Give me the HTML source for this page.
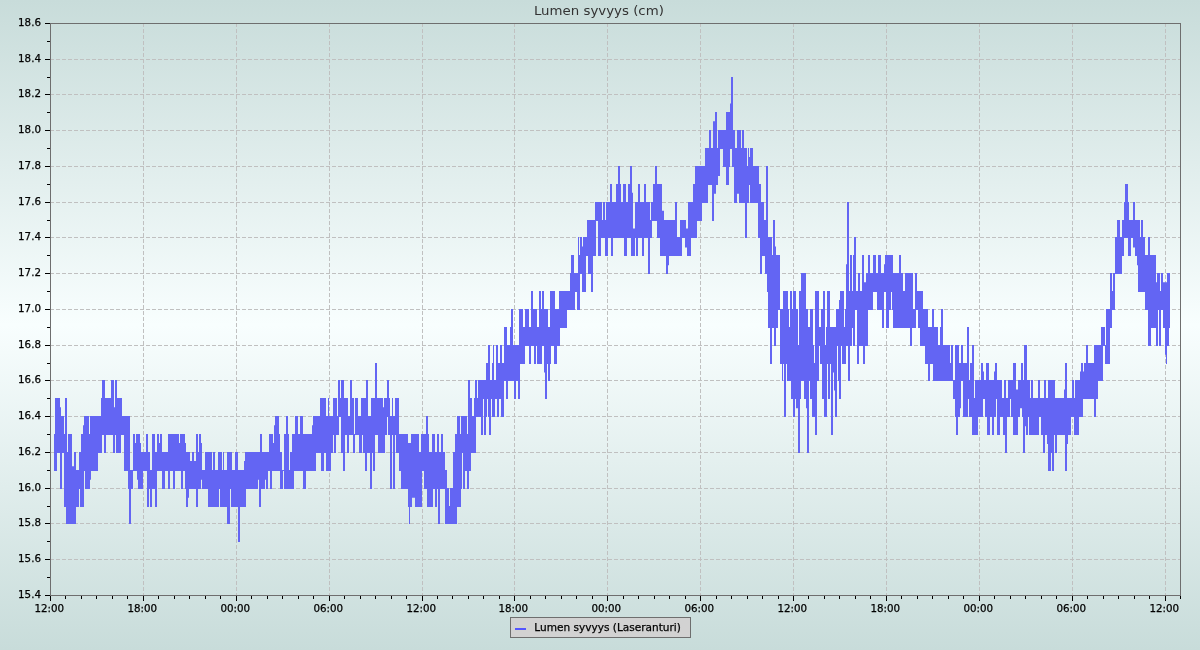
<!DOCTYPE html>
<html><head><meta charset="utf-8"><title>Lumen syvyys (cm)</title>
<style>
html,body{margin:0;padding:0;width:1200px;height:650px;overflow:hidden}
body{background:linear-gradient(to bottom,#c8dcda 0,#f8fefe 50%,#c8dcda 100%)}
svg{display:block;position:absolute;left:0;top:0;will-change:transform}
</style></head><body>
<svg width="1200" height="650" viewBox="0 0 1200 650">
<g stroke="#c0c0c0" stroke-width="1" stroke-dasharray="4 2" shape-rendering="crispEdges" fill="none"><line x1="50" y1="559.5" x2="1180" y2="559.5"/><line x1="50" y1="523.5" x2="1180" y2="523.5"/><line x1="50" y1="488.5" x2="1180" y2="488.5"/><line x1="50" y1="452.5" x2="1180" y2="452.5"/><line x1="50" y1="416.5" x2="1180" y2="416.5"/><line x1="50" y1="380.5" x2="1180" y2="380.5"/><line x1="50" y1="345.5" x2="1180" y2="345.5"/><line x1="50" y1="309.5" x2="1180" y2="309.5"/><line x1="50" y1="273.5" x2="1180" y2="273.5"/><line x1="50" y1="237.5" x2="1180" y2="237.5"/><line x1="50" y1="202.5" x2="1180" y2="202.5"/><line x1="50" y1="166.5" x2="1180" y2="166.5"/><line x1="50" y1="130.5" x2="1180" y2="130.5"/><line x1="50" y1="94.5" x2="1180" y2="94.5"/><line x1="50" y1="59.5" x2="1180" y2="59.5"/><line x1="143.5" y1="23" x2="143.5" y2="595"/><line x1="236.5" y1="23" x2="236.5" y2="595"/><line x1="329.5" y1="23" x2="329.5" y2="595"/><line x1="422.5" y1="23" x2="422.5" y2="595"/><line x1="514.5" y1="23" x2="514.5" y2="595"/><line x1="607.5" y1="23" x2="607.5" y2="595"/><line x1="700.5" y1="23" x2="700.5" y2="595"/><line x1="793.5" y1="23" x2="793.5" y2="595"/><line x1="886.5" y1="23" x2="886.5" y2="595"/><line x1="979.5" y1="23" x2="979.5" y2="595"/><line x1="1072.5" y1="23" x2="1072.5" y2="595"/><line x1="1165.5" y1="23" x2="1165.5" y2="595"/></g>
<path d="M54.00 434.00 L55.00 434.00 L55.00 398.00 L57.00 398.00 L57.00 398.00 L60.00 398.00 L60.00 407.31 L61.00 407.31 L61.00 416.00 L62.00 416.00 L62.00 416.00 L64.00 416.00 L64.00 434.00 L65.00 434.00 L65.00 398.00 L66.00 398.00 L66.00 398.00 L67.00 398.00 L67.00 452.00 L68.00 452.00 L68.00 434.00 L72.00 434.00 L72.00 466.30 L74.00 466.30 L74.00 452.00 L76.00 452.00 L76.00 470.00 L79.00 470.00 L79.00 452.00 L80.00 452.00 L80.00 452.00 L81.00 452.00 L81.00 434.00 L83.00 434.00 L83.00 425.19 L84.00 425.19 L84.00 416.00 L85.00 416.00 L85.00 416.00 L89.00 416.00 L89.00 434.00 L90.00 434.00 L90.00 416.00 L91.00 416.00 L91.00 416.00 L98.00 416.00 L98.00 416.00 L100.00 416.00 L100.00 416.00 L101.00 416.00 L101.00 398.00 L102.00 398.00 L102.00 380.00 L104.00 380.00 L104.00 380.00 L105.00 380.00 L105.00 398.00 L106.00 398.00 L106.00 398.00 L111.00 398.00 L111.00 380.00 L113.00 380.00 L113.00 380.00 L114.00 380.00 L114.00 407.31 L115.00 407.31 L115.00 380.00 L116.00 380.00 L116.00 380.00 L117.00 380.00 L117.00 398.00 L121.00 398.00 L121.00 398.00 L122.00 398.00 L122.00 416.00 L124.00 416.00 L124.00 416.00 L128.00 416.00 L128.00 416.00 L129.00 416.00 L129.00 416.00 L130.00 416.00 L130.00 470.00 L131.00 470.00 L131.00 470.00 L133.00 470.00 L133.00 434.00 L135.00 434.00 L135.00 443.06 L136.00 443.06 L136.00 434.00 L137.00 434.00 L137.00 434.00 L138.00 434.00 L138.00 434.00 L140.00 434.00 L140.00 443.06 L141.00 443.06 L141.00 452.00 L143.00 452.00 L143.00 452.00 L146.00 452.00 L146.00 434.00 L147.00 434.00 L147.00 434.00 L148.00 434.00 L148.00 452.00 L149.00 452.00 L149.00 452.00 L150.00 452.00 L150.00 470.00 L152.00 470.00 L152.00 434.00 L155.00 434.00 L155.00 452.00 L157.00 452.00 L157.00 434.00 L159.00 434.00 L159.00 443.06 L160.00 443.06 L160.00 434.00 L162.00 434.00 L162.00 452.00 L165.00 452.00 L165.00 452.00 L168.00 452.00 L168.00 434.00 L170.00 434.00 L170.00 434.00 L173.00 434.00 L173.00 434.00 L175.00 434.00 L175.00 434.00 L179.00 434.00 L179.00 443.06 L180.00 443.06 L180.00 434.00 L181.00 434.00 L181.00 434.00 L183.00 434.00 L183.00 434.00 L185.00 434.00 L185.00 443.06 L186.00 443.06 L186.00 452.00 L188.00 452.00 L188.00 452.00 L189.00 452.00 L189.00 452.00 L190.00 452.00 L190.00 460.94 L192.00 460.94 L192.00 452.00 L194.00 452.00 L194.00 460.94 L196.00 460.94 L196.00 434.00 L198.00 434.00 L198.00 452.00 L199.00 452.00 L199.00 434.00 L201.00 434.00 L201.00 443.06 L202.00 443.06 L202.00 470.00 L205.00 470.00 L205.00 452.00 L208.00 452.00 L208.00 452.00 L212.00 452.00 L212.00 470.00 L213.00 470.00 L213.00 452.00 L215.00 452.00 L215.00 470.00 L218.00 470.00 L218.00 452.00 L219.00 452.00 L219.00 452.00 L220.00 452.00 L220.00 452.00 L222.00 452.00 L222.00 470.00 L223.00 470.00 L223.00 452.00 L224.00 452.00 L224.00 470.00 L227.00 470.00 L227.00 452.00 L230.00 452.00 L230.00 452.00 L231.00 452.00 L231.00 452.00 L232.00 452.00 L232.00 470.00 L235.00 470.00 L235.00 452.00 L238.00 452.00 L238.00 470.00 L240.00 470.00 L240.00 470.00 L244.00 470.00 L244.00 460.94 L245.00 460.94 L245.00 452.00 L246.00 452.00 L246.00 452.00 L250.00 452.00 L250.00 452.00 L258.00 452.00 L258.00 452.00 L259.00 452.00 L259.00 452.00 L260.00 452.00 L260.00 434.00 L261.00 434.00 L261.00 434.00 L262.00 434.00 L262.00 452.00 L265.00 452.00 L265.00 452.00 L266.00 452.00 L266.00 452.00 L268.00 452.00 L268.00 452.00 L269.00 452.00 L269.00 434.00 L270.00 434.00 L270.00 434.00 L272.00 434.00 L272.00 434.00 L273.00 434.00 L273.00 443.06 L274.00 443.06 L274.00 425.19 L275.00 425.19 L275.00 416.00 L279.00 416.00 L279.00 434.00 L280.00 434.00 L280.00 452.00 L282.00 452.00 L282.00 470.00 L283.00 470.00 L283.00 470.00 L284.00 470.00 L284.00 434.00 L286.00 434.00 L286.00 416.00 L288.00 416.00 L288.00 434.00 L289.00 434.00 L289.00 470.00 L290.00 470.00 L290.00 452.00 L292.00 452.00 L292.00 434.00 L294.00 434.00 L294.00 434.00 L295.00 434.00 L295.00 416.00 L298.00 416.00 L298.00 434.00 L300.00 434.00 L300.00 416.00 L303.00 416.00 L303.00 434.00 L306.00 434.00 L306.00 434.00 L312.00 434.00 L312.00 425.19 L313.00 425.19 L313.00 416.00 L316.00 416.00 L316.00 416.00 L320.00 416.00 L320.00 398.00 L321.00 398.00 L321.00 398.00 L324.00 398.00 L324.00 398.00 L326.00 398.00 L326.00 416.00 L328.00 416.00 L328.00 398.00 L329.00 398.00 L329.00 416.00 L331.00 416.00 L331.00 416.00 L333.00 416.00 L333.00 398.00 L334.00 398.00 L334.00 398.00 L336.00 398.00 L336.00 398.00 L337.00 398.00 L337.00 416.00 L338.00 416.00 L338.00 380.00 L339.00 380.00 L339.00 380.00 L340.00 380.00 L340.00 398.00 L341.00 398.00 L341.00 380.00 L343.00 380.00 L343.00 380.00 L344.00 380.00 L344.00 398.00 L345.00 398.00 L345.00 398.00 L347.00 398.00 L347.00 398.00 L348.00 398.00 L348.00 416.00 L349.00 416.00 L349.00 416.00 L350.00 416.00 L350.00 380.00 L352.00 380.00 L352.00 398.00 L353.00 398.00 L353.00 398.00 L354.00 398.00 L354.00 434.00 L355.00 434.00 L355.00 398.00 L358.00 398.00 L358.00 416.00 L359.00 416.00 L359.00 416.00 L361.00 416.00 L361.00 398.00 L362.00 398.00 L362.00 398.00 L363.00 398.00 L363.00 398.00 L365.00 398.00 L365.00 398.00 L366.00 398.00 L366.00 380.00 L367.00 380.00 L367.00 380.00 L368.00 380.00 L368.00 416.00 L370.00 416.00 L370.00 416.00 L371.00 416.00 L371.00 398.00 L372.00 398.00 L372.00 398.00 L373.00 398.00 L373.00 398.00 L375.00 398.00 L375.00 363.00 L377.00 363.00 L377.00 398.00 L378.00 398.00 L378.00 398.00 L383.00 398.00 L383.00 407.31 L384.00 407.31 L384.00 398.00 L385.00 398.00 L385.00 398.00 L387.00 398.00 L387.00 380.00 L388.00 380.00 L388.00 380.00 L389.00 380.00 L389.00 398.00 L390.00 398.00 L390.00 416.00 L392.00 416.00 L392.00 398.00 L393.00 398.00 L393.00 416.00 L395.00 416.00 L395.00 398.00 L396.00 398.00 L396.00 398.00 L399.00 398.00 L399.00 434.00 L401.00 434.00 L401.00 434.00 L408.00 434.00 L408.00 443.06 L409.00 443.06 L409.00 443.06 L410.00 443.06 L410.00 443.06 L411.00 443.06 L411.00 434.00 L412.00 434.00 L412.00 434.00 L415.00 434.00 L415.00 434.00 L419.00 434.00 L419.00 452.00 L421.00 452.00 L421.00 434.00 L422.00 434.00 L422.00 434.00 L424.00 434.00 L424.00 434.00 L426.00 434.00 L426.00 416.00 L427.00 416.00 L427.00 416.00 L428.00 416.00 L428.00 434.00 L429.00 434.00 L429.00 452.00 L432.00 452.00 L432.00 434.00 L433.00 434.00 L433.00 434.00 L435.00 434.00 L435.00 452.00 L437.00 452.00 L437.00 434.00 L438.00 434.00 L438.00 434.00 L439.00 434.00 L439.00 452.00 L440.00 452.00 L440.00 452.00 L441.00 452.00 L441.00 434.00 L443.00 434.00 L443.00 452.00 L445.00 452.00 L445.00 470.00 L447.00 470.00 L447.00 488.00 L449.00 488.00 L449.00 506.00 L450.00 506.00 L450.00 488.00 L453.00 488.00 L453.00 452.00 L455.00 452.00 L455.00 434.00 L457.00 434.00 L457.00 416.00 L460.00 416.00 L460.00 434.00 L461.00 434.00 L461.00 416.00 L462.00 416.00 L462.00 416.00 L463.00 416.00 L463.00 416.00 L465.00 416.00 L465.00 416.00 L467.00 416.00 L467.00 434.00 L468.00 434.00 L468.00 380.00 L469.00 380.00 L469.00 380.00 L470.00 380.00 L470.00 398.00 L471.00 398.00 L471.00 398.00 L472.00 398.00 L472.00 416.00 L474.00 416.00 L474.00 398.00 L475.00 398.00 L475.00 380.00 L476.00 380.00 L476.00 380.00 L477.00 380.00 L477.00 398.00 L478.00 398.00 L478.00 380.00 L481.00 380.00 L481.00 380.00 L483.00 380.00 L483.00 380.00 L484.00 380.00 L484.00 380.00 L486.00 380.00 L486.00 363.00 L487.00 363.00 L487.00 363.00 L488.00 363.00 L488.00 345.00 L489.00 345.00 L489.00 345.00 L490.00 345.00 L490.00 380.00 L491.00 380.00 L491.00 380.00 L492.00 380.00 L492.00 363.00 L493.00 363.00 L493.00 345.00 L494.00 345.00 L494.00 380.00 L495.00 380.00 L495.00 380.00 L496.00 380.00 L496.00 345.00 L497.00 345.00 L497.00 345.00 L498.00 345.00 L498.00 363.00 L499.00 363.00 L499.00 363.00 L500.00 363.00 L500.00 345.00 L501.00 345.00 L501.00 345.00 L502.00 345.00 L502.00 363.00 L504.00 363.00 L504.00 327.00 L506.00 327.00 L506.00 327.00 L507.00 327.00 L507.00 345.00 L508.00 345.00 L508.00 345.00 L510.00 345.00 L510.00 327.00 L511.00 327.00 L511.00 309.00 L513.00 309.00 L513.00 345.00 L514.00 345.00 L514.00 345.00 L516.00 345.00 L516.00 345.00 L518.00 345.00 L518.00 345.00 L519.00 345.00 L519.00 309.00 L520.00 309.00 L520.00 309.00 L523.00 309.00 L523.00 327.00 L525.00 327.00 L525.00 309.00 L529.00 309.00 L529.00 327.00 L531.00 327.00 L531.00 291.00 L533.00 291.00 L533.00 309.00 L534.00 309.00 L534.00 309.00 L536.00 309.00 L536.00 309.00 L537.00 309.00 L537.00 327.00 L539.00 327.00 L539.00 291.00 L541.00 291.00 L541.00 309.00 L542.00 309.00 L542.00 291.00 L544.00 291.00 L544.00 309.00 L545.00 309.00 L545.00 309.00 L547.00 309.00 L547.00 309.00 L548.00 309.00 L548.00 327.00 L550.00 327.00 L550.00 291.00 L551.00 291.00 L551.00 291.00 L554.00 291.00 L554.00 291.00 L555.00 291.00 L555.00 309.00 L557.00 309.00 L557.00 309.00 L559.00 309.00 L559.00 291.00 L560.00 291.00 L560.00 291.00 L567.00 291.00 L567.00 291.00 L570.00 291.00 L570.00 273.00 L571.00 273.00 L571.00 255.00 L574.00 255.00 L574.00 273.00 L575.00 273.00 L575.00 273.00 L577.00 273.00 L577.00 273.00 L578.00 273.00 L578.00 237.00 L579.00 237.00 L579.00 255.00 L580.00 255.00 L580.00 237.00 L582.00 237.00 L582.00 246.44 L583.00 246.44 L583.00 237.00 L586.00 237.00 L586.00 237.00 L587.00 237.00 L587.00 220.00 L588.00 220.00 L588.00 220.00 L591.00 220.00 L591.00 220.00 L593.00 220.00 L593.00 220.00 L595.00 220.00 L595.00 202.00 L596.00 202.00 L596.00 202.00 L598.00 202.00 L598.00 202.00 L601.00 202.00 L601.00 202.00 L602.00 202.00 L602.00 220.00 L603.00 220.00 L603.00 202.00 L605.00 202.00 L605.00 220.00 L606.00 220.00 L606.00 202.00 L608.00 202.00 L608.00 202.00 L610.00 202.00 L610.00 184.00 L611.00 184.00 L611.00 184.00 L612.00 184.00 L612.00 202.00 L613.00 202.00 L613.00 202.00 L616.00 202.00 L616.00 184.00 L618.00 184.00 L618.00 166.00 L620.00 166.00 L620.00 184.00 L621.00 184.00 L621.00 202.00 L623.00 202.00 L623.00 184.00 L624.00 184.00 L624.00 184.00 L626.00 184.00 L626.00 202.00 L627.00 202.00 L627.00 202.00 L628.00 202.00 L628.00 184.00 L630.00 184.00 L630.00 166.00 L631.00 166.00 L631.00 166.00 L632.00 166.00 L632.00 192.81 L633.00 192.81 L633.00 228.56 L635.00 228.56 L635.00 202.00 L636.00 202.00 L636.00 202.00 L638.00 202.00 L638.00 184.00 L640.00 184.00 L640.00 202.00 L642.00 202.00 L642.00 202.00 L644.00 202.00 L644.00 184.00 L646.00 184.00 L646.00 202.00 L648.00 202.00 L648.00 202.00 L650.00 202.00 L650.00 220.00 L651.00 220.00 L651.00 202.00 L652.00 202.00 L652.00 202.00 L653.00 202.00 L653.00 184.00 L655.00 184.00 L655.00 166.00 L657.00 166.00 L657.00 184.00 L660.00 184.00 L660.00 184.00 L662.00 184.00 L662.00 210.69 L664.00 210.69 L664.00 220.00 L666.00 220.00 L666.00 220.00 L668.00 220.00 L668.00 220.00 L669.00 220.00 L669.00 220.00 L675.00 220.00 L675.00 202.00 L677.00 202.00 L677.00 237.00 L680.00 237.00 L680.00 220.00 L682.00 220.00 L682.00 220.00 L685.00 220.00 L685.00 220.00 L686.00 220.00 L686.00 228.56 L687.00 228.56 L687.00 228.56 L688.00 228.56 L688.00 202.00 L691.00 202.00 L691.00 202.00 L693.00 202.00 L693.00 184.00 L695.00 184.00 L695.00 166.00 L697.00 166.00 L697.00 166.00 L702.00 166.00 L702.00 166.00 L705.00 166.00 L705.00 148.00 L708.00 148.00 L708.00 148.00 L709.00 148.00 L709.00 130.00 L711.00 130.00 L711.00 148.00 L712.00 148.00 L712.00 148.00 L713.00 148.00 L713.00 121.31 L714.00 121.31 L714.00 121.31 L715.00 121.31 L715.00 112.00 L716.00 112.00 L716.00 112.00 L717.00 112.00 L717.00 148.00 L718.00 148.00 L718.00 130.00 L720.00 130.00 L720.00 130.00 L723.00 130.00 L723.00 130.00 L726.00 130.00 L726.00 112.00 L729.00 112.00 L729.00 112.00 L730.00 112.00 L730.00 103.44 L731.00 103.44 L731.00 77.00 L732.00 77.00 L732.00 77.00 L733.00 77.00 L733.00 130.00 L734.00 130.00 L734.00 130.00 L735.00 130.00 L735.00 148.00 L737.00 148.00 L737.00 130.00 L739.00 130.00 L739.00 130.00 L741.00 130.00 L741.00 148.00 L742.00 148.00 L742.00 130.00 L744.00 130.00 L744.00 148.00 L745.00 148.00 L745.00 148.00 L747.00 148.00 L747.00 166.00 L748.00 166.00 L748.00 148.00 L749.00 148.00 L749.00 157.06 L750.00 157.06 L750.00 148.00 L753.00 148.00 L753.00 166.00 L758.00 166.00 L758.00 166.00 L759.00 166.00 L759.00 184.00 L760.00 184.00 L760.00 184.00 L761.00 184.00 L761.00 202.00 L762.00 202.00 L762.00 202.00 L764.00 202.00 L764.00 220.00 L765.00 220.00 L765.00 220.00 L766.00 220.00 L766.00 166.00 L767.00 166.00 L767.00 166.00 L768.00 166.00 L768.00 237.00 L769.00 237.00 L769.00 237.00 L770.00 237.00 L770.00 237.00 L772.00 237.00 L772.00 255.00 L773.00 255.00 L773.00 220.00 L774.00 220.00 L774.00 220.00 L775.00 220.00 L775.00 246.44 L776.00 246.44 L776.00 255.00 L778.00 255.00 L778.00 255.00 L780.00 255.00 L780.00 309.00 L782.00 309.00 L782.00 309.00 L783.00 309.00 L783.00 291.00 L784.00 291.00 L784.00 291.00 L786.00 291.00 L786.00 291.00 L787.00 291.00 L787.00 291.00 L788.00 291.00 L788.00 309.00 L789.00 309.00 L789.00 327.00 L790.00 327.00 L790.00 291.00 L791.00 291.00 L791.00 291.00 L792.00 291.00 L792.00 309.00 L793.00 309.00 L793.00 291.00 L795.00 291.00 L795.00 291.00 L796.00 291.00 L796.00 309.00 L798.00 309.00 L798.00 345.00 L799.00 345.00 L799.00 291.00 L800.00 291.00 L800.00 291.00 L801.00 291.00 L801.00 273.00 L804.00 273.00 L804.00 273.00 L806.00 273.00 L806.00 309.00 L807.00 309.00 L807.00 309.00 L808.00 309.00 L808.00 327.00 L809.00 327.00 L809.00 327.00 L810.00 327.00 L810.00 309.00 L812.00 309.00 L812.00 309.00 L813.00 309.00 L813.00 345.00 L814.00 345.00 L814.00 363.00 L815.00 363.00 L815.00 291.00 L817.00 291.00 L817.00 291.00 L819.00 291.00 L819.00 327.00 L820.00 327.00 L820.00 327.00 L821.00 327.00 L821.00 309.00 L822.00 309.00 L822.00 309.00 L823.00 309.00 L823.00 291.00 L824.00 291.00 L824.00 291.00 L825.00 291.00 L825.00 345.00 L826.00 345.00 L826.00 327.00 L827.00 327.00 L827.00 291.00 L828.00 291.00 L828.00 291.00 L830.00 291.00 L830.00 327.00 L831.00 327.00 L831.00 327.00 L833.00 327.00 L833.00 327.00 L834.00 327.00 L834.00 327.00 L835.00 327.00 L835.00 327.00 L836.00 327.00 L836.00 309.00 L837.00 309.00 L837.00 309.00 L838.00 309.00 L838.00 309.00 L839.00 309.00 L839.00 300.06 L840.00 300.06 L840.00 291.00 L841.00 291.00 L841.00 291.00 L842.00 291.00 L842.00 291.00 L844.00 291.00 L844.00 327.00 L845.00 327.00 L845.00 309.00 L846.00 309.00 L846.00 264.31 L847.00 264.31 L847.00 202.00 L848.00 202.00 L848.00 202.00 L849.00 202.00 L849.00 291.00 L850.00 291.00 L850.00 255.00 L852.00 255.00 L852.00 291.00 L853.00 291.00 L853.00 255.00 L854.00 255.00 L854.00 237.00 L855.00 237.00 L855.00 237.00 L856.00 237.00 L856.00 291.00 L857.00 291.00 L857.00 291.00 L858.00 291.00 L858.00 273.00 L859.00 273.00 L859.00 273.00 L860.00 273.00 L860.00 291.00 L862.00 291.00 L862.00 255.00 L863.00 255.00 L863.00 255.00 L864.00 255.00 L864.00 282.19 L865.00 282.19 L865.00 282.19 L866.00 282.19 L866.00 273.00 L868.00 273.00 L868.00 255.00 L870.00 255.00 L870.00 273.00 L873.00 273.00 L873.00 255.00 L876.00 255.00 L876.00 273.00 L877.00 273.00 L877.00 273.00 L878.00 273.00 L878.00 255.00 L881.00 255.00 L881.00 273.00 L882.00 273.00 L882.00 273.00 L884.00 273.00 L884.00 264.31 L885.00 264.31 L885.00 255.00 L886.00 255.00 L886.00 255.00 L889.00 255.00 L889.00 255.00 L891.00 255.00 L891.00 255.00 L892.00 255.00 L892.00 255.00 L893.00 255.00 L893.00 273.00 L895.00 273.00 L895.00 273.00 L899.00 273.00 L899.00 255.00 L901.00 255.00 L901.00 273.00 L903.00 273.00 L903.00 291.00 L905.00 291.00 L905.00 273.00 L910.00 273.00 L910.00 273.00 L912.00 273.00 L912.00 273.00 L913.00 273.00 L913.00 309.00 L915.00 309.00 L915.00 273.00 L916.00 273.00 L916.00 273.00 L917.00 273.00 L917.00 291.00 L918.00 291.00 L918.00 291.00 L920.00 291.00 L920.00 291.00 L923.00 291.00 L923.00 309.00 L925.00 309.00 L925.00 309.00 L928.00 309.00 L928.00 327.00 L930.00 327.00 L930.00 327.00 L932.00 327.00 L932.00 309.00 L933.00 309.00 L933.00 309.00 L934.00 309.00 L934.00 327.00 L938.00 327.00 L938.00 345.00 L940.00 345.00 L940.00 327.00 L941.00 327.00 L941.00 309.00 L943.00 309.00 L943.00 345.00 L950.00 345.00 L950.00 363.00 L951.00 363.00 L951.00 345.00 L953.00 345.00 L953.00 380.00 L955.00 380.00 L955.00 345.00 L956.00 345.00 L956.00 345.00 L958.00 345.00 L958.00 345.00 L959.00 345.00 L959.00 363.00 L960.00 363.00 L960.00 363.00 L961.00 363.00 L961.00 345.00 L963.00 345.00 L963.00 363.00 L967.00 363.00 L967.00 327.00 L968.00 327.00 L968.00 327.00 L969.00 327.00 L969.00 380.00 L970.00 380.00 L970.00 363.00 L972.00 363.00 L972.00 345.00 L974.00 345.00 L974.00 398.00 L975.00 398.00 L975.00 380.00 L978.00 380.00 L978.00 380.00 L981.00 380.00 L981.00 363.00 L983.00 363.00 L983.00 371.56 L984.00 371.56 L984.00 380.00 L985.00 380.00 L985.00 380.00 L986.00 380.00 L986.00 363.00 L987.00 363.00 L987.00 363.00 L989.00 363.00 L989.00 380.00 L990.00 380.00 L990.00 380.00 L992.00 380.00 L992.00 380.00 L994.00 380.00 L994.00 371.56 L995.00 371.56 L995.00 363.00 L996.00 363.00 L996.00 363.00 L997.00 363.00 L997.00 380.00 L1000.00 380.00 L1000.00 380.00 L1002.00 380.00 L1002.00 398.00 L1003.00 398.00 L1003.00 398.00 L1004.00 398.00 L1004.00 380.00 L1005.00 380.00 L1005.00 380.00 L1006.00 380.00 L1006.00 398.00 L1007.00 398.00 L1007.00 398.00 L1008.00 398.00 L1008.00 380.00 L1010.00 380.00 L1010.00 380.00 L1011.00 380.00 L1011.00 380.00 L1013.00 380.00 L1013.00 363.00 L1016.00 363.00 L1016.00 389.44 L1018.00 389.44 L1018.00 380.00 L1020.00 380.00 L1020.00 380.00 L1021.00 380.00 L1021.00 363.00 L1022.00 363.00 L1022.00 363.00 L1023.00 363.00 L1023.00 380.00 L1024.00 380.00 L1024.00 345.00 L1025.00 345.00 L1025.00 345.00 L1026.00 345.00 L1026.00 345.00 L1027.00 345.00 L1027.00 380.00 L1028.00 380.00 L1028.00 380.00 L1029.00 380.00 L1029.00 380.00 L1030.00 380.00 L1030.00 398.00 L1031.00 398.00 L1031.00 380.00 L1033.00 380.00 L1033.00 398.00 L1038.00 398.00 L1038.00 380.00 L1039.00 380.00 L1039.00 380.00 L1040.00 380.00 L1040.00 398.00 L1041.00 398.00 L1041.00 398.00 L1043.00 398.00 L1043.00 398.00 L1044.00 398.00 L1044.00 380.00 L1045.00 380.00 L1045.00 380.00 L1046.00 380.00 L1046.00 398.00 L1047.00 398.00 L1047.00 398.00 L1048.00 398.00 L1048.00 380.00 L1050.00 380.00 L1050.00 380.00 L1051.00 380.00 L1051.00 380.00 L1052.00 380.00 L1052.00 380.00 L1054.00 380.00 L1054.00 380.00 L1055.00 380.00 L1055.00 398.00 L1057.00 398.00 L1057.00 398.00 L1064.00 398.00 L1064.00 389.44 L1065.00 389.44 L1065.00 363.00 L1067.00 363.00 L1067.00 398.00 L1068.00 398.00 L1068.00 398.00 L1071.00 398.00 L1071.00 398.00 L1072.00 398.00 L1072.00 380.00 L1074.00 380.00 L1074.00 398.00 L1075.00 398.00 L1075.00 380.00 L1079.00 380.00 L1079.00 380.00 L1080.00 380.00 L1080.00 371.56 L1081.00 371.56 L1081.00 363.00 L1083.00 363.00 L1083.00 371.56 L1084.00 371.56 L1084.00 363.00 L1086.00 363.00 L1086.00 345.00 L1088.00 345.00 L1088.00 363.00 L1094.00 363.00 L1094.00 345.00 L1096.00 345.00 L1096.00 345.00 L1098.00 345.00 L1098.00 345.00 L1101.00 345.00 L1101.00 327.00 L1103.00 327.00 L1103.00 327.00 L1105.00 327.00 L1105.00 345.00 L1106.00 345.00 L1106.00 309.00 L1110.00 309.00 L1110.00 273.00 L1112.00 273.00 L1112.00 291.00 L1113.00 291.00 L1113.00 273.00 L1115.00 273.00 L1115.00 237.00 L1117.00 237.00 L1117.00 220.00 L1120.00 220.00 L1120.00 237.00 L1122.00 237.00 L1122.00 220.00 L1124.00 220.00 L1124.00 202.00 L1125.00 202.00 L1125.00 184.00 L1128.00 184.00 L1128.00 202.00 L1129.00 202.00 L1129.00 220.00 L1131.00 220.00 L1131.00 220.00 L1133.00 220.00 L1133.00 202.00 L1135.00 202.00 L1135.00 220.00 L1137.00 220.00 L1137.00 220.00 L1138.00 220.00 L1138.00 220.00 L1140.00 220.00 L1140.00 237.00 L1141.00 237.00 L1141.00 220.00 L1143.00 220.00 L1143.00 237.00 L1145.00 237.00 L1145.00 255.00 L1148.00 255.00 L1148.00 237.00 L1150.00 237.00 L1150.00 255.00 L1151.00 255.00 L1151.00 255.00 L1156.00 255.00 L1156.00 282.19 L1157.00 282.19 L1157.00 273.00 L1158.00 273.00 L1158.00 273.00 L1159.00 273.00 L1159.00 273.00 L1160.00 273.00 L1160.00 291.00 L1161.00 291.00 L1161.00 273.00 L1163.00 273.00 L1163.00 282.19 L1165.00 282.19 L1165.00 282.19 L1166.00 282.19 L1166.00 282.19 L1167.00 282.19 L1167.00 273.00 L1169.00 273.00 L1169.00 273.00 L1170.00 273.00 L1170.00 328.00 L1169.00 328.00 L1169.00 346.00 L1167.00 346.00 L1167.00 364.00 L1166.00 364.00 L1166.00 354.69 L1165.00 354.69 L1165.00 328.00 L1163.00 328.00 L1163.00 310.00 L1161.00 310.00 L1161.00 346.00 L1160.00 346.00 L1160.00 346.00 L1159.00 346.00 L1159.00 310.00 L1158.00 310.00 L1158.00 346.00 L1157.00 346.00 L1157.00 346.00 L1156.00 346.00 L1156.00 328.00 L1151.00 328.00 L1151.00 346.00 L1150.00 346.00 L1150.00 346.00 L1148.00 346.00 L1148.00 310.00 L1145.00 310.00 L1145.00 292.00 L1143.00 292.00 L1143.00 292.00 L1141.00 292.00 L1141.00 292.00 L1140.00 292.00 L1140.00 292.00 L1138.00 292.00 L1138.00 265.31 L1137.00 265.31 L1137.00 256.00 L1135.00 256.00 L1135.00 247.44 L1133.00 247.44 L1133.00 238.00 L1131.00 238.00 L1131.00 256.00 L1129.00 256.00 L1129.00 256.00 L1128.00 256.00 L1128.00 238.00 L1125.00 238.00 L1125.00 238.00 L1124.00 238.00 L1124.00 256.00 L1122.00 256.00 L1122.00 274.00 L1120.00 274.00 L1120.00 274.00 L1117.00 274.00 L1117.00 274.00 L1115.00 274.00 L1115.00 310.00 L1113.00 310.00 L1113.00 310.00 L1112.00 310.00 L1112.00 328.00 L1110.00 328.00 L1110.00 364.00 L1106.00 364.00 L1106.00 364.00 L1105.00 364.00 L1105.00 346.00 L1103.00 346.00 L1103.00 381.00 L1101.00 381.00 L1101.00 381.00 L1098.00 381.00 L1098.00 399.00 L1096.00 399.00 L1096.00 417.00 L1094.00 417.00 L1094.00 399.00 L1088.00 399.00 L1088.00 399.00 L1086.00 399.00 L1086.00 399.00 L1084.00 399.00 L1084.00 399.00 L1083.00 399.00 L1083.00 417.00 L1081.00 417.00 L1081.00 417.00 L1080.00 417.00 L1080.00 417.00 L1079.00 417.00 L1079.00 435.00 L1075.00 435.00 L1075.00 435.00 L1074.00 435.00 L1074.00 417.00 L1072.00 417.00 L1072.00 417.00 L1071.00 417.00 L1071.00 435.00 L1068.00 435.00 L1068.00 444.06 L1067.00 444.06 L1067.00 471.00 L1065.00 471.00 L1065.00 435.00 L1064.00 435.00 L1064.00 435.00 L1057.00 435.00 L1057.00 453.00 L1055.00 453.00 L1055.00 435.00 L1054.00 435.00 L1054.00 471.00 L1052.00 471.00 L1052.00 453.00 L1051.00 453.00 L1051.00 471.00 L1050.00 471.00 L1050.00 471.00 L1048.00 471.00 L1048.00 444.06 L1047.00 444.06 L1047.00 435.00 L1046.00 435.00 L1046.00 435.00 L1045.00 435.00 L1045.00 453.00 L1044.00 453.00 L1044.00 453.00 L1043.00 453.00 L1043.00 435.00 L1041.00 435.00 L1041.00 417.00 L1040.00 417.00 L1040.00 417.00 L1039.00 417.00 L1039.00 435.00 L1038.00 435.00 L1038.00 435.00 L1033.00 435.00 L1033.00 435.00 L1031.00 435.00 L1031.00 435.00 L1030.00 435.00 L1030.00 435.00 L1029.00 435.00 L1029.00 417.00 L1028.00 417.00 L1028.00 435.00 L1027.00 435.00 L1027.00 435.00 L1026.00 435.00 L1026.00 426.19 L1025.00 426.19 L1025.00 453.00 L1024.00 453.00 L1024.00 453.00 L1023.00 453.00 L1023.00 417.00 L1022.00 417.00 L1022.00 408.31 L1021.00 408.31 L1021.00 408.31 L1020.00 408.31 L1020.00 417.00 L1018.00 417.00 L1018.00 435.00 L1016.00 435.00 L1016.00 435.00 L1013.00 435.00 L1013.00 417.00 L1011.00 417.00 L1011.00 399.00 L1010.00 399.00 L1010.00 417.00 L1008.00 417.00 L1008.00 417.00 L1007.00 417.00 L1007.00 453.00 L1006.00 453.00 L1006.00 453.00 L1005.00 453.00 L1005.00 435.00 L1004.00 435.00 L1004.00 435.00 L1003.00 435.00 L1003.00 417.00 L1002.00 417.00 L1002.00 417.00 L1000.00 417.00 L1000.00 435.00 L997.00 435.00 L997.00 399.00 L996.00 399.00 L996.00 417.00 L995.00 417.00 L995.00 417.00 L994.00 417.00 L994.00 435.00 L992.00 435.00 L992.00 417.00 L990.00 417.00 L990.00 435.00 L989.00 435.00 L989.00 435.00 L987.00 435.00 L987.00 417.00 L986.00 417.00 L986.00 417.00 L985.00 417.00 L985.00 399.00 L984.00 399.00 L984.00 399.00 L983.00 399.00 L983.00 417.00 L981.00 417.00 L981.00 417.00 L978.00 417.00 L978.00 435.00 L975.00 435.00 L975.00 435.00 L974.00 435.00 L974.00 435.00 L972.00 435.00 L972.00 417.00 L970.00 417.00 L970.00 417.00 L969.00 417.00 L969.00 399.00 L968.00 399.00 L968.00 417.00 L967.00 417.00 L967.00 417.00 L963.00 417.00 L963.00 381.00 L961.00 381.00 L961.00 408.31 L960.00 408.31 L960.00 417.00 L959.00 417.00 L959.00 417.00 L958.00 417.00 L958.00 435.00 L956.00 435.00 L956.00 417.00 L955.00 417.00 L955.00 399.00 L953.00 399.00 L953.00 381.00 L951.00 381.00 L951.00 381.00 L950.00 381.00 L950.00 381.00 L943.00 381.00 L943.00 381.00 L941.00 381.00 L941.00 381.00 L940.00 381.00 L940.00 381.00 L938.00 381.00 L938.00 381.00 L934.00 381.00 L934.00 381.00 L933.00 381.00 L933.00 364.00 L932.00 364.00 L932.00 364.00 L930.00 364.00 L930.00 381.00 L928.00 381.00 L928.00 364.00 L925.00 364.00 L925.00 346.00 L923.00 346.00 L923.00 346.00 L920.00 346.00 L920.00 328.00 L918.00 328.00 L918.00 310.00 L917.00 310.00 L917.00 310.00 L916.00 310.00 L916.00 328.00 L915.00 328.00 L915.00 328.00 L913.00 328.00 L913.00 328.00 L912.00 328.00 L912.00 346.00 L910.00 346.00 L910.00 328.00 L905.00 328.00 L905.00 328.00 L903.00 328.00 L903.00 328.00 L901.00 328.00 L901.00 328.00 L899.00 328.00 L899.00 328.00 L895.00 328.00 L895.00 328.00 L893.00 328.00 L893.00 310.00 L892.00 310.00 L892.00 292.00 L891.00 292.00 L891.00 310.00 L889.00 310.00 L889.00 328.00 L886.00 328.00 L886.00 292.00 L885.00 292.00 L885.00 292.00 L884.00 292.00 L884.00 328.00 L882.00 328.00 L882.00 310.00 L881.00 310.00 L881.00 310.00 L878.00 310.00 L878.00 310.00 L877.00 310.00 L877.00 292.00 L876.00 292.00 L876.00 292.00 L873.00 292.00 L873.00 310.00 L870.00 310.00 L870.00 310.00 L868.00 310.00 L868.00 346.00 L866.00 346.00 L866.00 346.00 L865.00 346.00 L865.00 364.00 L864.00 364.00 L864.00 364.00 L863.00 364.00 L863.00 346.00 L862.00 346.00 L862.00 346.00 L860.00 346.00 L860.00 346.00 L859.00 346.00 L859.00 364.00 L858.00 364.00 L858.00 364.00 L857.00 364.00 L857.00 310.00 L856.00 310.00 L856.00 310.00 L855.00 310.00 L855.00 346.00 L854.00 346.00 L854.00 346.00 L853.00 346.00 L853.00 328.00 L852.00 328.00 L852.00 346.00 L850.00 346.00 L850.00 381.00 L849.00 381.00 L849.00 381.00 L848.00 381.00 L848.00 346.00 L847.00 346.00 L847.00 346.00 L846.00 346.00 L846.00 364.00 L845.00 364.00 L845.00 364.00 L844.00 364.00 L844.00 364.00 L842.00 364.00 L842.00 346.00 L841.00 346.00 L841.00 399.00 L840.00 399.00 L840.00 399.00 L839.00 399.00 L839.00 381.00 L838.00 381.00 L838.00 346.00 L837.00 346.00 L837.00 417.00 L836.00 417.00 L836.00 417.00 L835.00 417.00 L835.00 390.44 L834.00 390.44 L834.00 372.56 L833.00 372.56 L833.00 435.00 L831.00 435.00 L831.00 364.00 L830.00 364.00 L830.00 399.00 L828.00 399.00 L828.00 364.00 L827.00 364.00 L827.00 417.00 L826.00 417.00 L826.00 417.00 L825.00 417.00 L825.00 417.00 L824.00 417.00 L824.00 399.00 L823.00 399.00 L823.00 399.00 L822.00 399.00 L822.00 364.00 L821.00 364.00 L821.00 364.00 L820.00 364.00 L820.00 346.00 L819.00 346.00 L819.00 381.00 L817.00 381.00 L817.00 435.00 L815.00 435.00 L815.00 417.00 L814.00 417.00 L814.00 417.00 L813.00 417.00 L813.00 417.00 L812.00 417.00 L812.00 399.00 L810.00 399.00 L810.00 381.00 L809.00 381.00 L809.00 453.00 L808.00 453.00 L808.00 453.00 L807.00 453.00 L807.00 408.31 L806.00 408.31 L806.00 399.00 L804.00 399.00 L804.00 381.00 L801.00 381.00 L801.00 399.00 L800.00 399.00 L800.00 453.00 L799.00 453.00 L799.00 453.00 L798.00 453.00 L798.00 408.31 L796.00 408.31 L796.00 399.00 L795.00 399.00 L795.00 417.00 L793.00 417.00 L793.00 399.00 L792.00 399.00 L792.00 399.00 L791.00 399.00 L791.00 381.00 L790.00 381.00 L790.00 381.00 L789.00 381.00 L789.00 381.00 L788.00 381.00 L788.00 381.00 L787.00 381.00 L787.00 364.00 L786.00 364.00 L786.00 417.00 L784.00 417.00 L784.00 364.00 L783.00 364.00 L783.00 381.00 L782.00 381.00 L782.00 364.00 L780.00 364.00 L780.00 310.00 L778.00 310.00 L778.00 328.00 L776.00 328.00 L776.00 346.00 L775.00 346.00 L775.00 346.00 L774.00 346.00 L774.00 328.00 L773.00 328.00 L773.00 328.00 L772.00 328.00 L772.00 364.00 L770.00 364.00 L770.00 328.00 L769.00 328.00 L769.00 328.00 L768.00 328.00 L768.00 292.00 L767.00 292.00 L767.00 274.00 L766.00 274.00 L766.00 274.00 L765.00 274.00 L765.00 256.00 L764.00 256.00 L764.00 256.00 L762.00 256.00 L762.00 274.00 L761.00 274.00 L761.00 274.00 L760.00 274.00 L760.00 238.00 L759.00 238.00 L759.00 238.00 L758.00 238.00 L758.00 203.00 L753.00 203.00 L753.00 203.00 L750.00 203.00 L750.00 185.00 L749.00 185.00 L749.00 203.00 L748.00 203.00 L748.00 203.00 L747.00 203.00 L747.00 238.00 L745.00 238.00 L745.00 203.00 L744.00 203.00 L744.00 203.00 L742.00 203.00 L742.00 203.00 L741.00 203.00 L741.00 203.00 L739.00 203.00 L739.00 193.81 L737.00 193.81 L737.00 203.00 L735.00 203.00 L735.00 203.00 L734.00 203.00 L734.00 167.00 L733.00 167.00 L733.00 167.00 L732.00 167.00 L732.00 149.00 L731.00 149.00 L731.00 149.00 L730.00 149.00 L730.00 167.00 L729.00 167.00 L729.00 185.00 L726.00 185.00 L726.00 167.00 L723.00 167.00 L723.00 149.00 L720.00 149.00 L720.00 175.94 L718.00 175.94 L718.00 185.00 L717.00 185.00 L717.00 185.00 L716.00 185.00 L716.00 193.81 L715.00 193.81 L715.00 193.81 L714.00 193.81 L714.00 221.00 L713.00 221.00 L713.00 221.00 L712.00 221.00 L712.00 185.00 L711.00 185.00 L711.00 185.00 L709.00 185.00 L709.00 185.00 L708.00 185.00 L708.00 203.00 L705.00 203.00 L705.00 203.00 L702.00 203.00 L702.00 221.00 L697.00 221.00 L697.00 238.00 L695.00 238.00 L695.00 238.00 L693.00 238.00 L693.00 238.00 L691.00 238.00 L691.00 256.00 L688.00 256.00 L688.00 256.00 L687.00 256.00 L687.00 247.44 L686.00 247.44 L686.00 247.44 L685.00 247.44 L685.00 238.00 L682.00 238.00 L682.00 256.00 L680.00 256.00 L680.00 256.00 L677.00 256.00 L677.00 256.00 L675.00 256.00 L675.00 256.00 L669.00 256.00 L669.00 265.31 L668.00 265.31 L668.00 274.00 L666.00 274.00 L666.00 256.00 L664.00 256.00 L664.00 256.00 L662.00 256.00 L662.00 256.00 L660.00 256.00 L660.00 238.00 L657.00 238.00 L657.00 221.00 L655.00 221.00 L655.00 221.00 L653.00 221.00 L653.00 221.00 L652.00 221.00 L652.00 238.00 L651.00 238.00 L651.00 238.00 L650.00 238.00 L650.00 274.00 L648.00 274.00 L648.00 238.00 L646.00 238.00 L646.00 238.00 L644.00 238.00 L644.00 256.00 L642.00 256.00 L642.00 238.00 L640.00 238.00 L640.00 238.00 L638.00 238.00 L638.00 256.00 L636.00 256.00 L636.00 238.00 L635.00 238.00 L635.00 256.00 L633.00 256.00 L633.00 256.00 L632.00 256.00 L632.00 256.00 L631.00 256.00 L631.00 238.00 L630.00 238.00 L630.00 238.00 L628.00 238.00 L628.00 238.00 L627.00 238.00 L627.00 256.00 L626.00 256.00 L626.00 256.00 L624.00 256.00 L624.00 238.00 L623.00 238.00 L623.00 238.00 L621.00 238.00 L621.00 238.00 L620.00 238.00 L620.00 238.00 L618.00 238.00 L618.00 238.00 L616.00 238.00 L616.00 238.00 L613.00 238.00 L613.00 256.00 L612.00 256.00 L612.00 256.00 L611.00 256.00 L611.00 238.00 L610.00 238.00 L610.00 238.00 L608.00 238.00 L608.00 256.00 L606.00 256.00 L606.00 256.00 L605.00 256.00 L605.00 238.00 L603.00 238.00 L603.00 238.00 L602.00 238.00 L602.00 238.00 L601.00 238.00 L601.00 256.00 L598.00 256.00 L598.00 221.00 L596.00 221.00 L596.00 256.00 L595.00 256.00 L595.00 256.00 L593.00 256.00 L593.00 292.00 L591.00 292.00 L591.00 274.00 L588.00 274.00 L588.00 256.00 L587.00 256.00 L587.00 256.00 L586.00 256.00 L586.00 292.00 L583.00 292.00 L583.00 292.00 L582.00 292.00 L582.00 274.00 L580.00 274.00 L580.00 310.00 L579.00 310.00 L579.00 310.00 L578.00 310.00 L578.00 310.00 L577.00 310.00 L577.00 292.00 L575.00 292.00 L575.00 310.00 L574.00 310.00 L574.00 310.00 L571.00 310.00 L571.00 310.00 L570.00 310.00 L570.00 310.00 L567.00 310.00 L567.00 328.00 L560.00 328.00 L560.00 346.00 L559.00 346.00 L559.00 346.00 L557.00 346.00 L557.00 364.00 L555.00 364.00 L555.00 364.00 L554.00 364.00 L554.00 346.00 L551.00 346.00 L551.00 364.00 L550.00 364.00 L550.00 381.00 L548.00 381.00 L548.00 364.00 L547.00 364.00 L547.00 399.00 L545.00 399.00 L545.00 372.56 L544.00 372.56 L544.00 346.00 L542.00 346.00 L542.00 364.00 L541.00 364.00 L541.00 364.00 L539.00 364.00 L539.00 364.00 L537.00 364.00 L537.00 346.00 L536.00 346.00 L536.00 364.00 L534.00 364.00 L534.00 346.00 L533.00 346.00 L533.00 346.00 L531.00 346.00 L531.00 364.00 L529.00 364.00 L529.00 346.00 L525.00 346.00 L525.00 364.00 L523.00 364.00 L523.00 364.00 L520.00 364.00 L520.00 399.00 L519.00 399.00 L519.00 399.00 L518.00 399.00 L518.00 381.00 L516.00 381.00 L516.00 399.00 L514.00 399.00 L514.00 381.00 L513.00 381.00 L513.00 381.00 L511.00 381.00 L511.00 381.00 L510.00 381.00 L510.00 381.00 L508.00 381.00 L508.00 399.00 L507.00 399.00 L507.00 399.00 L506.00 399.00 L506.00 381.00 L504.00 381.00 L504.00 417.00 L502.00 417.00 L502.00 417.00 L501.00 417.00 L501.00 399.00 L500.00 399.00 L500.00 399.00 L499.00 399.00 L499.00 417.00 L498.00 417.00 L498.00 417.00 L497.00 417.00 L497.00 399.00 L496.00 399.00 L496.00 399.00 L495.00 399.00 L495.00 417.00 L494.00 417.00 L494.00 417.00 L493.00 417.00 L493.00 417.00 L492.00 417.00 L492.00 399.00 L491.00 399.00 L491.00 435.00 L490.00 435.00 L490.00 435.00 L489.00 435.00 L489.00 417.00 L488.00 417.00 L488.00 399.00 L487.00 399.00 L487.00 417.00 L486.00 417.00 L486.00 435.00 L484.00 435.00 L484.00 399.00 L483.00 399.00 L483.00 435.00 L481.00 435.00 L481.00 417.00 L478.00 417.00 L478.00 417.00 L477.00 417.00 L477.00 417.00 L476.00 417.00 L476.00 453.00 L475.00 453.00 L475.00 453.00 L474.00 453.00 L474.00 453.00 L472.00 453.00 L472.00 453.00 L471.00 453.00 L471.00 471.00 L470.00 471.00 L470.00 471.00 L469.00 471.00 L469.00 489.00 L468.00 489.00 L468.00 489.00 L467.00 489.00 L467.00 471.00 L465.00 471.00 L465.00 489.00 L463.00 489.00 L463.00 453.00 L462.00 453.00 L462.00 489.00 L461.00 489.00 L461.00 507.00 L460.00 507.00 L460.00 507.00 L457.00 507.00 L457.00 524.00 L455.00 524.00 L455.00 524.00 L453.00 524.00 L453.00 524.00 L450.00 524.00 L450.00 524.00 L449.00 524.00 L449.00 524.00 L447.00 524.00 L447.00 524.00 L445.00 524.00 L445.00 489.00 L443.00 489.00 L443.00 489.00 L441.00 489.00 L441.00 489.00 L440.00 489.00 L440.00 524.00 L439.00 524.00 L439.00 524.00 L438.00 524.00 L438.00 489.00 L437.00 489.00 L437.00 507.00 L435.00 507.00 L435.00 489.00 L433.00 489.00 L433.00 507.00 L432.00 507.00 L432.00 507.00 L429.00 507.00 L429.00 507.00 L428.00 507.00 L428.00 507.00 L427.00 507.00 L427.00 489.00 L426.00 489.00 L426.00 489.00 L424.00 489.00 L424.00 471.00 L422.00 471.00 L422.00 507.00 L421.00 507.00 L421.00 507.00 L419.00 507.00 L419.00 507.00 L415.00 507.00 L415.00 497.69 L412.00 497.69 L412.00 507.00 L411.00 507.00 L411.00 507.00 L410.00 507.00 L410.00 524.00 L409.00 524.00 L409.00 507.00 L408.00 507.00 L408.00 489.00 L401.00 489.00 L401.00 471.00 L399.00 471.00 L399.00 453.00 L396.00 453.00 L396.00 435.00 L395.00 435.00 L395.00 489.00 L393.00 489.00 L393.00 435.00 L392.00 435.00 L392.00 489.00 L390.00 489.00 L390.00 435.00 L389.00 435.00 L389.00 435.00 L388.00 435.00 L388.00 417.00 L387.00 417.00 L387.00 435.00 L385.00 435.00 L385.00 453.00 L384.00 453.00 L384.00 453.00 L383.00 453.00 L383.00 453.00 L378.00 453.00 L378.00 435.00 L377.00 435.00 L377.00 435.00 L375.00 435.00 L375.00 471.00 L373.00 471.00 L373.00 453.00 L372.00 453.00 L372.00 489.00 L371.00 489.00 L371.00 489.00 L370.00 489.00 L370.00 453.00 L368.00 453.00 L368.00 453.00 L367.00 453.00 L367.00 471.00 L366.00 471.00 L366.00 471.00 L365.00 471.00 L365.00 453.00 L363.00 453.00 L363.00 435.00 L362.00 435.00 L362.00 453.00 L361.00 453.00 L361.00 453.00 L359.00 453.00 L359.00 435.00 L358.00 435.00 L358.00 435.00 L355.00 435.00 L355.00 453.00 L354.00 453.00 L354.00 453.00 L353.00 453.00 L353.00 435.00 L352.00 435.00 L352.00 435.00 L350.00 435.00 L350.00 435.00 L349.00 435.00 L349.00 453.00 L348.00 453.00 L348.00 453.00 L347.00 453.00 L347.00 435.00 L345.00 435.00 L345.00 471.00 L344.00 471.00 L344.00 471.00 L343.00 471.00 L343.00 453.00 L341.00 453.00 L341.00 417.00 L340.00 417.00 L340.00 417.00 L339.00 417.00 L339.00 435.00 L338.00 435.00 L338.00 435.00 L337.00 435.00 L337.00 435.00 L336.00 435.00 L336.00 453.00 L334.00 453.00 L334.00 435.00 L333.00 435.00 L333.00 453.00 L331.00 453.00 L331.00 471.00 L329.00 471.00 L329.00 471.00 L328.00 471.00 L328.00 471.00 L326.00 471.00 L326.00 453.00 L324.00 453.00 L324.00 471.00 L321.00 471.00 L321.00 453.00 L320.00 453.00 L320.00 453.00 L316.00 453.00 L316.00 471.00 L313.00 471.00 L313.00 471.00 L312.00 471.00 L312.00 471.00 L306.00 471.00 L306.00 489.00 L303.00 489.00 L303.00 471.00 L300.00 471.00 L300.00 471.00 L298.00 471.00 L298.00 471.00 L295.00 471.00 L295.00 471.00 L294.00 471.00 L294.00 489.00 L292.00 489.00 L292.00 489.00 L290.00 489.00 L290.00 489.00 L289.00 489.00 L289.00 489.00 L288.00 489.00 L288.00 489.00 L286.00 489.00 L286.00 489.00 L284.00 489.00 L284.00 471.00 L283.00 471.00 L283.00 489.00 L282.00 489.00 L282.00 489.00 L280.00 489.00 L280.00 471.00 L279.00 471.00 L279.00 471.00 L275.00 471.00 L275.00 471.00 L274.00 471.00 L274.00 471.00 L273.00 471.00 L273.00 471.00 L272.00 471.00 L272.00 489.00 L270.00 489.00 L270.00 471.00 L269.00 471.00 L269.00 471.00 L268.00 471.00 L268.00 489.00 L266.00 489.00 L266.00 479.81 L265.00 479.81 L265.00 489.00 L262.00 489.00 L262.00 489.00 L261.00 489.00 L261.00 507.00 L260.00 507.00 L260.00 507.00 L259.00 507.00 L259.00 479.81 L258.00 479.81 L258.00 489.00 L250.00 489.00 L250.00 489.00 L246.00 489.00 L246.00 507.00 L245.00 507.00 L245.00 507.00 L244.00 507.00 L244.00 507.00 L240.00 507.00 L240.00 542.00 L238.00 542.00 L238.00 507.00 L235.00 507.00 L235.00 507.00 L232.00 507.00 L232.00 507.00 L231.00 507.00 L231.00 489.00 L230.00 489.00 L230.00 524.00 L227.00 524.00 L227.00 507.00 L224.00 507.00 L224.00 507.00 L223.00 507.00 L223.00 507.00 L222.00 507.00 L222.00 507.00 L220.00 507.00 L220.00 489.00 L219.00 489.00 L219.00 507.00 L218.00 507.00 L218.00 507.00 L215.00 507.00 L215.00 507.00 L213.00 507.00 L213.00 507.00 L212.00 507.00 L212.00 507.00 L208.00 507.00 L208.00 489.00 L205.00 489.00 L205.00 489.00 L202.00 489.00 L202.00 479.81 L201.00 479.81 L201.00 489.00 L199.00 489.00 L199.00 489.00 L198.00 489.00 L198.00 507.00 L196.00 507.00 L196.00 489.00 L194.00 489.00 L194.00 489.00 L192.00 489.00 L192.00 489.00 L190.00 489.00 L190.00 489.00 L189.00 489.00 L189.00 497.69 L188.00 497.69 L188.00 507.00 L186.00 507.00 L186.00 489.00 L185.00 489.00 L185.00 471.00 L183.00 471.00 L183.00 489.00 L181.00 489.00 L181.00 471.00 L180.00 471.00 L180.00 471.00 L179.00 471.00 L179.00 471.00 L175.00 471.00 L175.00 489.00 L173.00 489.00 L173.00 471.00 L170.00 471.00 L170.00 489.00 L168.00 489.00 L168.00 471.00 L165.00 471.00 L165.00 489.00 L162.00 489.00 L162.00 471.00 L160.00 471.00 L160.00 471.00 L159.00 471.00 L159.00 471.00 L157.00 471.00 L157.00 507.00 L155.00 507.00 L155.00 489.00 L152.00 489.00 L152.00 507.00 L150.00 507.00 L150.00 489.00 L149.00 489.00 L149.00 507.00 L148.00 507.00 L148.00 507.00 L147.00 507.00 L147.00 471.00 L146.00 471.00 L146.00 471.00 L143.00 471.00 L143.00 489.00 L141.00 489.00 L141.00 489.00 L140.00 489.00 L140.00 489.00 L138.00 489.00 L138.00 479.81 L137.00 479.81 L137.00 471.00 L136.00 471.00 L136.00 471.00 L135.00 471.00 L135.00 471.00 L133.00 471.00 L133.00 489.00 L131.00 489.00 L131.00 524.00 L130.00 524.00 L130.00 524.00 L129.00 524.00 L129.00 489.00 L128.00 489.00 L128.00 471.00 L124.00 471.00 L124.00 435.00 L122.00 435.00 L122.00 435.00 L121.00 435.00 L121.00 453.00 L117.00 453.00 L117.00 453.00 L116.00 453.00 L116.00 435.00 L115.00 435.00 L115.00 453.00 L114.00 453.00 L114.00 453.00 L113.00 453.00 L113.00 435.00 L111.00 435.00 L111.00 435.00 L106.00 435.00 L106.00 453.00 L105.00 453.00 L105.00 453.00 L104.00 453.00 L104.00 435.00 L102.00 435.00 L102.00 453.00 L101.00 453.00 L101.00 453.00 L100.00 453.00 L100.00 453.00 L98.00 453.00 L98.00 471.00 L91.00 471.00 L91.00 479.81 L90.00 479.81 L90.00 489.00 L89.00 489.00 L89.00 489.00 L85.00 489.00 L85.00 471.00 L84.00 471.00 L84.00 507.00 L83.00 507.00 L83.00 507.00 L81.00 507.00 L81.00 507.00 L80.00 507.00 L80.00 489.00 L79.00 489.00 L79.00 507.00 L76.00 507.00 L76.00 524.00 L74.00 524.00 L74.00 524.00 L72.00 524.00 L72.00 524.00 L68.00 524.00 L68.00 524.00 L67.00 524.00 L67.00 524.00 L66.00 524.00 L66.00 507.00 L65.00 507.00 L65.00 507.00 L64.00 507.00 L64.00 453.00 L62.00 453.00 L62.00 489.00 L61.00 489.00 L61.00 489.00 L60.00 489.00 L60.00 453.00 L57.00 453.00 L57.00 471.00 L55.00 471.00 L55.00 471.00 L54.00 471.00Z" fill="#6365f3"/>
<g stroke="#6e6e6e" stroke-width="1" fill="none" shape-rendering="crispEdges"><rect x="50.5" y="23.5" width="1130" height="572"/></g>
<g stroke="#000" stroke-width="1" shape-rendering="crispEdges"><line x1="45" y1="595.5" x2="50" y2="595.5"/><line x1="47" y1="577.5" x2="50" y2="577.5"/><line x1="45" y1="559.5" x2="50" y2="559.5"/><line x1="47" y1="541.5" x2="50" y2="541.5"/><line x1="45" y1="523.5" x2="50" y2="523.5"/><line x1="47" y1="506.5" x2="50" y2="506.5"/><line x1="45" y1="488.5" x2="50" y2="488.5"/><line x1="47" y1="470.5" x2="50" y2="470.5"/><line x1="45" y1="452.5" x2="50" y2="452.5"/><line x1="47" y1="434.5" x2="50" y2="434.5"/><line x1="45" y1="416.5" x2="50" y2="416.5"/><line x1="47" y1="398.5" x2="50" y2="398.5"/><line x1="45" y1="380.5" x2="50" y2="380.5"/><line x1="47" y1="363.5" x2="50" y2="363.5"/><line x1="45" y1="345.5" x2="50" y2="345.5"/><line x1="47" y1="327.5" x2="50" y2="327.5"/><line x1="45" y1="309.5" x2="50" y2="309.5"/><line x1="47" y1="291.5" x2="50" y2="291.5"/><line x1="45" y1="273.5" x2="50" y2="273.5"/><line x1="47" y1="255.5" x2="50" y2="255.5"/><line x1="45" y1="237.5" x2="50" y2="237.5"/><line x1="47" y1="220.5" x2="50" y2="220.5"/><line x1="45" y1="202.5" x2="50" y2="202.5"/><line x1="47" y1="184.5" x2="50" y2="184.5"/><line x1="45" y1="166.5" x2="50" y2="166.5"/><line x1="47" y1="148.5" x2="50" y2="148.5"/><line x1="45" y1="130.5" x2="50" y2="130.5"/><line x1="47" y1="112.5" x2="50" y2="112.5"/><line x1="45" y1="94.5" x2="50" y2="94.5"/><line x1="47" y1="77.5" x2="50" y2="77.5"/><line x1="45" y1="59.5" x2="50" y2="59.5"/><line x1="47" y1="41.5" x2="50" y2="41.5"/><line x1="45" y1="23.5" x2="50" y2="23.5"/><line x1="50.5" y1="596" x2="50.5" y2="601"/><line x1="65.5" y1="596" x2="65.5" y2="599"/><line x1="81.5" y1="596" x2="81.5" y2="599"/><line x1="96.5" y1="596" x2="96.5" y2="599"/><line x1="112.5" y1="596" x2="112.5" y2="599"/><line x1="127.5" y1="596" x2="127.5" y2="599"/><line x1="143.5" y1="596" x2="143.5" y2="601"/><line x1="158.5" y1="596" x2="158.5" y2="599"/><line x1="174.5" y1="596" x2="174.5" y2="599"/><line x1="189.5" y1="596" x2="189.5" y2="599"/><line x1="205.5" y1="596" x2="205.5" y2="599"/><line x1="220.5" y1="596" x2="220.5" y2="599"/><line x1="236.5" y1="596" x2="236.5" y2="601"/><line x1="251.5" y1="596" x2="251.5" y2="599"/><line x1="267.5" y1="596" x2="267.5" y2="599"/><line x1="282.5" y1="596" x2="282.5" y2="599"/><line x1="298.5" y1="596" x2="298.5" y2="599"/><line x1="313.5" y1="596" x2="313.5" y2="599"/><line x1="329.5" y1="596" x2="329.5" y2="601"/><line x1="344.5" y1="596" x2="344.5" y2="599"/><line x1="360.5" y1="596" x2="360.5" y2="599"/><line x1="375.5" y1="596" x2="375.5" y2="599"/><line x1="391.5" y1="596" x2="391.5" y2="599"/><line x1="406.5" y1="596" x2="406.5" y2="599"/><line x1="422.5" y1="596" x2="422.5" y2="601"/><line x1="437.5" y1="596" x2="437.5" y2="599"/><line x1="452.5" y1="596" x2="452.5" y2="599"/><line x1="468.5" y1="596" x2="468.5" y2="599"/><line x1="483.5" y1="596" x2="483.5" y2="599"/><line x1="499.5" y1="596" x2="499.5" y2="599"/><line x1="514.5" y1="596" x2="514.5" y2="601"/><line x1="530.5" y1="596" x2="530.5" y2="599"/><line x1="545.5" y1="596" x2="545.5" y2="599"/><line x1="561.5" y1="596" x2="561.5" y2="599"/><line x1="576.5" y1="596" x2="576.5" y2="599"/><line x1="592.5" y1="596" x2="592.5" y2="599"/><line x1="607.5" y1="596" x2="607.5" y2="601"/><line x1="623.5" y1="596" x2="623.5" y2="599"/><line x1="638.5" y1="596" x2="638.5" y2="599"/><line x1="654.5" y1="596" x2="654.5" y2="599"/><line x1="669.5" y1="596" x2="669.5" y2="599"/><line x1="685.5" y1="596" x2="685.5" y2="599"/><line x1="700.5" y1="596" x2="700.5" y2="601"/><line x1="716.5" y1="596" x2="716.5" y2="599"/><line x1="731.5" y1="596" x2="731.5" y2="599"/><line x1="747.5" y1="596" x2="747.5" y2="599"/><line x1="762.5" y1="596" x2="762.5" y2="599"/><line x1="778.5" y1="596" x2="778.5" y2="599"/><line x1="793.5" y1="596" x2="793.5" y2="601"/><line x1="808.5" y1="596" x2="808.5" y2="599"/><line x1="824.5" y1="596" x2="824.5" y2="599"/><line x1="839.5" y1="596" x2="839.5" y2="599"/><line x1="855.5" y1="596" x2="855.5" y2="599"/><line x1="870.5" y1="596" x2="870.5" y2="599"/><line x1="886.5" y1="596" x2="886.5" y2="601"/><line x1="901.5" y1="596" x2="901.5" y2="599"/><line x1="917.5" y1="596" x2="917.5" y2="599"/><line x1="932.5" y1="596" x2="932.5" y2="599"/><line x1="948.5" y1="596" x2="948.5" y2="599"/><line x1="963.5" y1="596" x2="963.5" y2="599"/><line x1="979.5" y1="596" x2="979.5" y2="601"/><line x1="994.5" y1="596" x2="994.5" y2="599"/><line x1="1010.5" y1="596" x2="1010.5" y2="599"/><line x1="1025.5" y1="596" x2="1025.5" y2="599"/><line x1="1041.5" y1="596" x2="1041.5" y2="599"/><line x1="1056.5" y1="596" x2="1056.5" y2="599"/><line x1="1072.5" y1="596" x2="1072.5" y2="601"/><line x1="1087.5" y1="596" x2="1087.5" y2="599"/><line x1="1103.5" y1="596" x2="1103.5" y2="599"/><line x1="1118.5" y1="596" x2="1118.5" y2="599"/><line x1="1134.5" y1="596" x2="1134.5" y2="599"/><line x1="1149.5" y1="596" x2="1149.5" y2="599"/><line x1="1165.5" y1="596" x2="1165.5" y2="601"/><line x1="1180.5" y1="596" x2="1180.5" y2="599"/></g>
<g font-family="'DejaVu Sans','Liberation Sans',sans-serif" font-size="10.3" fill="#000" stroke="#000" stroke-width="0.25"><text x="41" y="598.0" text-anchor="end">15.4</text><text x="41" y="562.0" text-anchor="end">15.6</text><text x="41" y="526.0" text-anchor="end">15.8</text><text x="41" y="491.0" text-anchor="end">16.0</text><text x="41" y="455.0" text-anchor="end">16.2</text><text x="41" y="419.0" text-anchor="end">16.4</text><text x="41" y="383.0" text-anchor="end">16.6</text><text x="41" y="348.0" text-anchor="end">16.8</text><text x="41" y="312.0" text-anchor="end">17.0</text><text x="41" y="276.0" text-anchor="end">17.2</text><text x="41" y="240.0" text-anchor="end">17.4</text><text x="41" y="205.0" text-anchor="end">17.6</text><text x="41" y="169.0" text-anchor="end">17.8</text><text x="41" y="133.0" text-anchor="end">18.0</text><text x="41" y="97.0" text-anchor="end">18.2</text><text x="41" y="62.0" text-anchor="end">18.4</text><text x="41" y="26.0" text-anchor="end">18.6</text><text x="49.3" y="612" text-anchor="middle">12:00</text><text x="142.3" y="612" text-anchor="middle">18:00</text><text x="235.3" y="612" text-anchor="middle">00:00</text><text x="328.3" y="612" text-anchor="middle">06:00</text><text x="421.3" y="612" text-anchor="middle">12:00</text><text x="513.3" y="612" text-anchor="middle">18:00</text><text x="606.3" y="612" text-anchor="middle">00:00</text><text x="699.3" y="612" text-anchor="middle">06:00</text><text x="792.3" y="612" text-anchor="middle">12:00</text><text x="885.3" y="612" text-anchor="middle">18:00</text><text x="978.3" y="612" text-anchor="middle">00:00</text><text x="1071.3" y="612" text-anchor="middle">06:00</text><text x="1164.3" y="612" text-anchor="middle">12:00</text></g>
<text x="533.9" y="15.2" textLength="130" lengthAdjust="spacingAndGlyphs" font-family="'DejaVu Sans','Liberation Sans',sans-serif" font-size="12.5" fill="#333">Lumen syvyys (cm)</text>
<rect x="510.5" y="617.5" width="180" height="20" fill="#d2d2d2" stroke="#6e6e6e" stroke-width="1" shape-rendering="crispEdges"/>
<line x1="515" y1="629" x2="526" y2="629" stroke="#5555ff" stroke-width="2"/>
<text x="534.3" y="631" stroke="#000" stroke-width="0.25" font-family="'DejaVu Sans','Liberation Sans',sans-serif" font-size="10.55" fill="#000">Lumen syvyys (Laseranturi)</text>
</svg>
</body></html>
